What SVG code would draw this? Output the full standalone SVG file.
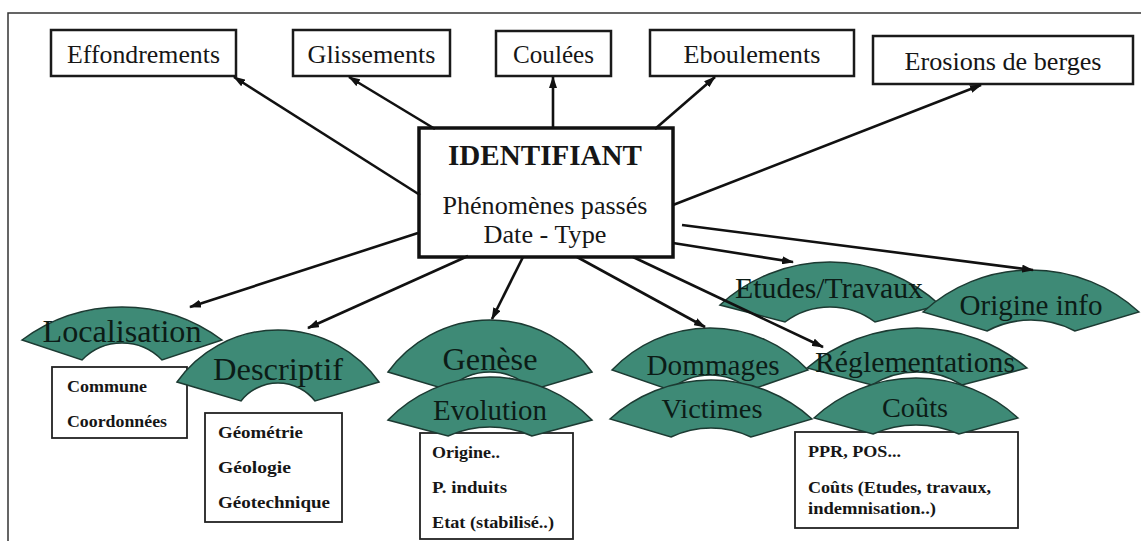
<svg xmlns="http://www.w3.org/2000/svg" width="1141" height="541" viewBox="0 0 1141 541" font-family="Liberation Serif, DejaVu Serif, serif">
<defs>
<style>
.frame{fill:none;stroke:#333;stroke-width:1.5}
.box{fill:#fff;stroke:#1a1a1a;stroke-width:2.5}
.cbox{fill:#fff;stroke:#111;stroke-width:3.5}
.sbox{fill:#fff;stroke:#222;stroke-width:1.8}
text{font-family:'Liberation Serif','DejaVu Serif',serif}
.lbl{font-size:26px;fill:#161616;text-anchor:middle}
.title{font-size:29px;font-weight:bold;fill:#161616;text-anchor:middle}
.fan{fill:#3e8a76;stroke:#1c3a32;stroke-width:1.5}
.fl{fill:#0c1c17;text-anchor:middle}
.bt{font-size:17px;font-weight:bold;fill:#161616}
.conn{stroke:#111;stroke-width:2.6;fill:none;marker-end:url(#ah)}
</style>
<marker id="ah" viewBox="0 0 12 8" refX="11" refY="4" markerWidth="12" markerHeight="8" markerUnits="userSpaceOnUse" orient="auto">
<path d="M0,0 L12,4 L0,8 z" fill="#111"/>
</marker>
</defs>
<rect width="1141" height="541" fill="#fff"/>
<path class="frame" d="M8,541 L8,13 L1141,13"/>

<g id="effondrements"><rect class="box" x="51" y="30" width="185" height="46"/><text class="lbl" x="143.5" y="63" textLength="153" lengthAdjust="spacingAndGlyphs">Effondrements</text></g>
<g id="glissements"><rect class="box" x="293" y="30" width="157" height="46"/><text class="lbl" x="371.5" y="63" textLength="128" lengthAdjust="spacingAndGlyphs">Glissements</text></g>
<g id="coulees"><rect class="box" x="496" y="31" width="115" height="45"/><text class="lbl" x="553.5" y="63" textLength="81" lengthAdjust="spacingAndGlyphs">Coulées</text></g>
<g id="eboulements"><rect class="box" x="650" y="30" width="204" height="46"/><text class="lbl" x="752" y="63" textLength="137" lengthAdjust="spacingAndGlyphs">Eboulements</text></g>
<g id="erosions"><rect class="box" x="873" y="36" width="260" height="48"/><text class="lbl" x="1003" y="70" textLength="197" lengthAdjust="spacingAndGlyphs">Erosions de berges</text></g>

<g id="identifiant"><rect class="cbox" x="419" y="128" width="254" height="129"/>
<text class="title" x="545" y="165" textLength="194" lengthAdjust="spacingAndGlyphs">IDENTIFIANT</text>
<text class="lbl" x="545" y="214" textLength="205" lengthAdjust="spacingAndGlyphs">Phénomènes passés</text>
<text class="lbl" x="545" y="243" textLength="123" lengthAdjust="spacingAndGlyphs">Date - Type</text></g>

<g id="localisation">
<rect class="sbox" x="52" y="367" width="135" height="71"/>
<text class="bt" x="67" y="392" textLength="80" lengthAdjust="spacingAndGlyphs">Commune</text>
<text class="bt" x="67" y="427" textLength="100" lengthAdjust="spacingAndGlyphs">Coordonnées</text>
<path class="fan" d="M22,340 A168,168 0 0 1 222,340 L162,360 A55.6,55.6 0 0 0 82,360 Z"/>
<text class="fl" x="122" y="342" font-size="32" textLength="159" lengthAdjust="spacingAndGlyphs">Localisation</text>
</g>

<g id="descriptif">
<rect class="sbox" x="205" y="413" width="137" height="109"/>
<text class="bt" x="218" y="438" textLength="85" lengthAdjust="spacingAndGlyphs">Géométrie</text>
<text class="bt" x="218" y="473" textLength="73" lengthAdjust="spacingAndGlyphs">Géologie</text>
<text class="bt" x="218" y="508" textLength="112" lengthAdjust="spacingAndGlyphs">Géotechnique</text>
<path class="fan" d="M177,382 A124,124 0 0 1 379,382 L315,401 A47,47 0 0 0 241,401 Z"/>
<text class="fl" x="278" y="380" font-size="32" textLength="130" lengthAdjust="spacingAndGlyphs">Descriptif</text>
</g>

<g id="genese">
<path class="fan" d="M388,372 A126,126 0 0 1 592,372 L532,390 A58,58 0 0 0 448,390 Z"/>
<text class="fl" x="490" y="370" font-size="32" textLength="95" lengthAdjust="spacingAndGlyphs">Genèse</text>
</g>

<g id="evolution">
<rect class="sbox" x="420" y="433" width="153" height="106"/>
<text class="bt" x="432" y="458" textLength="68" lengthAdjust="spacingAndGlyphs">Origine..</text>
<text class="bt" x="432" y="493" textLength="75" lengthAdjust="spacingAndGlyphs">P. induits</text>
<text class="bt" x="432" y="528" textLength="122" lengthAdjust="spacingAndGlyphs">Etat (stabilisé..)</text>
<path class="fan" d="M388,420 A142.5,142.5 0 0 1 592,420 L532,436 A102.5,102.5 0 0 0 448,436 Z"/>
<text class="fl" x="490" y="420" font-size="29" textLength="114" lengthAdjust="spacingAndGlyphs">Evolution</text>
</g>

<g id="dommages">
<path class="fan" d="M612,370 A135.3,135.3 0 0 1 808,370 L750,390 A60.8,60.8 0 0 0 670,390 Z"/>
<text class="fl" x="713" y="375" font-size="29" textLength="133" lengthAdjust="spacingAndGlyphs">Dommages</text>
</g>

<g id="victimes">
<path class="fan" d="M610,419 A150.3,150.3 0 0 1 812,419 L751,437 A93.4,93.4 0 0 0 671,437 Z"/>
<text class="fl" x="712" y="418" font-size="28" textLength="101" lengthAdjust="spacingAndGlyphs">Victimes</text>
</g>

<g id="etudes">
<path class="fan" d="M720,305 A162.2,162.2 0 0 1 940,305 L875,322 A75,75 0 0 0 785,322 Z"/>
<text class="fl" x="829" y="298" font-size="29" textLength="188" lengthAdjust="spacingAndGlyphs">Etudes/Travaux</text>
</g>

<g id="origine-info">
<path class="fan" d="M923,312 A159.9,159.9 0 0 1 1139,312 L1075,331 A93.5,93.5 0 0 0 987,331 Z"/>
<text class="fl" x="1031" y="315" font-size="29" textLength="143" lengthAdjust="spacingAndGlyphs">Origine info</text>
</g>

<g id="reglementations">
<path class="fan" d="M807,368 A171.3,171.3 0 0 1 1027,368 L962,385 A84.4,84.4 0 0 0 872,385 Z"/>
<text class="fl" x="915" y="372" font-size="29" textLength="200" lengthAdjust="spacingAndGlyphs">Réglementations</text>
</g>

<g id="couts">
<rect class="sbox" x="795" y="432" width="223" height="96"/>
<text class="bt" x="808" y="457" textLength="93" lengthAdjust="spacingAndGlyphs">PPR, POS...</text>
<text class="bt" x="808" y="493" textLength="183" lengthAdjust="spacingAndGlyphs">Coûts (Etudes, travaux,</text>
<text class="bt" x="808" y="514" textLength="128" lengthAdjust="spacingAndGlyphs">indemnisation..)</text>
<path class="fan" d="M814,418 A150,150 0 0 1 1018,418 L959,434 A107.2,107.2 0 0 0 873,434 Z"/>
<text class="fl" x="915" y="417" font-size="28" textLength="66" lengthAdjust="spacingAndGlyphs">Coûts</text>
</g>

<g id="connectors">
<line class="conn" x1="420" y1="195" x2="234" y2="77"/>
<line class="conn" x1="435" y1="129" x2="349" y2="77"/>
<line class="conn" x1="553" y1="129" x2="553" y2="77"/>
<line class="conn" x1="655" y1="129" x2="715" y2="77"/>
<line class="conn" x1="673" y1="205" x2="981" y2="85"/>
<line class="conn" x1="418" y1="233" x2="190" y2="307"/>
<line class="conn" x1="468" y1="256" x2="308" y2="328"/>
<line class="conn" x1="523" y1="257" x2="492" y2="319"/>
<line class="conn" x1="577" y1="257" x2="705" y2="327"/>
<line class="conn" x1="633" y1="257" x2="823" y2="347"/>
<line class="conn" x1="673" y1="243" x2="793" y2="262"/>
<line class="conn" x1="682" y1="225" x2="1033" y2="270"/>
</g>
</svg>
